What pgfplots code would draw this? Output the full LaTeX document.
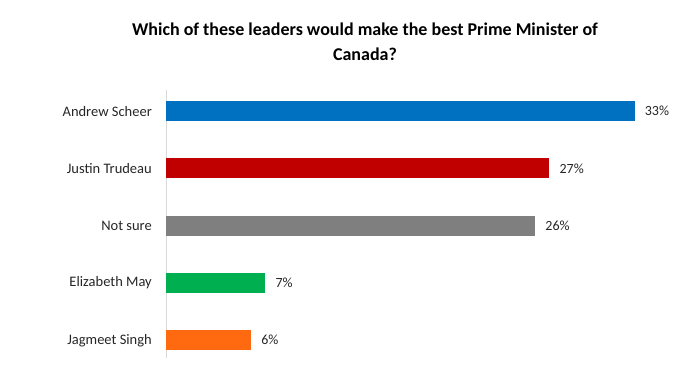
\documentclass[border=0pt]{standalone}
\usepackage{pgfplots}
\pgfplotsset{compat=1.18}
\usepackage{fontspec}
\setmainfont{Carlito}
\definecolor{cblue}{HTML}{0070C0}
\definecolor{cred}{HTML}{C00000}
\definecolor{cgray}{HTML}{7F7F7F}
\definecolor{cgreen}{HTML}{00B050}
\definecolor{corange}{HTML}{FF6A10}
\definecolor{axgray}{HTML}{D9D9D9}
\begin{document}
\begin{tikzpicture}[x=1pt,y=1pt]
\useasboundingbox (0,0) rectangle (699,380);
\node[align=center,font=\fontsize{18}{25}\selectfont\bfseries] at (365,338) {Which of these leaders would make the best Prime Minister of\\Canada?};
\begin{axis}[
  at={(166pt,22pt)}, anchor=south west,
  scale only axis, width=497pt, height=268pt,
  xbar, bar width=20pt, bar shift=0pt,
  xmin=0, xmax=35,
  ymin=-0.367, ymax=4.31, y dir=reverse,
  axis x line=none,
  axis y line=left,
  y axis line style={-, draw=axgray, line width=0.8pt},
  ytick={0,1,2,3,4},
  yticklabels={Andrew Scheer,Justin Trudeau,Not sure,Elizabeth May,Jagmeet Singh},
  major tick length=0pt,
  /pgf/number format/assume math mode=true,
  yticklabel style={font=\fontsize{14.5}{16}\selectfont, color=black!85, inner sep=0pt, xshift=-14pt},
  nodes near coords={\pgfmathprintnumber{\pgfplotspointmeta}\%},
  nodes near coords style={font=\fontsize{14}{16}\selectfont, color=black!85, inner sep=0pt, xshift=10pt, anchor=west},
  point meta=explicit,
  clip=false,
]
\addplot[draw=none, fill=cblue] coordinates {(33,0) [33]};
\addplot[draw=none, fill=cred] coordinates {(27,1) [27]};
\addplot[draw=none, fill=cgray] coordinates {(26,2) [26]};
\addplot[draw=none, fill=cgreen] coordinates {(7,3) [7]};
\addplot[draw=none, fill=corange] coordinates {(6,4) [6]};
\end{axis}
\end{tikzpicture}
\end{document}
